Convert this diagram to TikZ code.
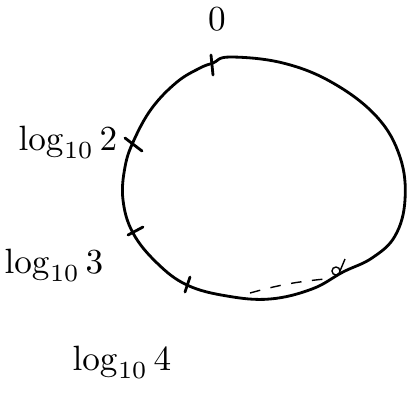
\documentclass[tikz,border=0pt]{standalone}
\begin{document}
\begin{tikzpicture}
[
	x=0.01cm, y=-0.01cm,
	curve/.style={thick,line join=round},
	tickmark/.style={thick,line cap=round},
	lbl/.style={font=\normalsize,inner sep=0pt}
]

	% frame
	\useasboundingbox (0,0) rectangle (418,408);

	% closed curve
	\draw[curve] plot[smooth cycle,tension=0.65] coordinates {
	  (213,63) (230,57) (283,63) (333,83) (377,117) (400,157)
	  (405,200) (395,236) (372,258) (343,272) (312,289)
	  (270,299) (227,296) (187,285) (157,263) (133,233)
	  (123,200) (125,167) (134,140) (152,108) (177,82) (200,68)};

	% marks on the curve
	\coordinate (m0) at (212,64);
	\coordinate (m2) at (132,145);
	\coordinate (m3) at (134,232);
	\coordinate (m4) at (187,285);
	\draw[tickmark] ([shift={(-1,-9)}]m0) -- ([shift={(1,11)}]m0);
	\draw[tickmark] ([shift={(-7,-7)}]m2) -- ([shift={(10,6)}]m2);
	\draw[tickmark] ([shift={(-6,3)}]m3) -- ([shift={(9,-5)}]m3);
	\draw[tickmark] ([shift={(-2,7)}]m4) -- ([shift={(3,-8)}]m4);

	% labels
	\node[lbl,anchor=base] (zero) at (217,30) {0};
	\node[lbl,anchor=base east] (lgtwo) at (118,150) {$\log_{10}2$};
	\node[lbl,anchor=base east] (lgthree) at (104,273) {$\log_{10}3$};
	\node[lbl,anchor=base east] (lgfour) at (172,370) {$\log_{10}4$};

	% dashed piece
	\coordinate (d1) at (250,293);
	\coordinate (d2) at (325,279);
	\draw[thin,dashed] (d1) to[bend left=5] (d2);
	\draw[thin] (336,271) circle (4);
	\draw[thin] (340,271) -- (345,259);

\end{tikzpicture}
\end{document}
